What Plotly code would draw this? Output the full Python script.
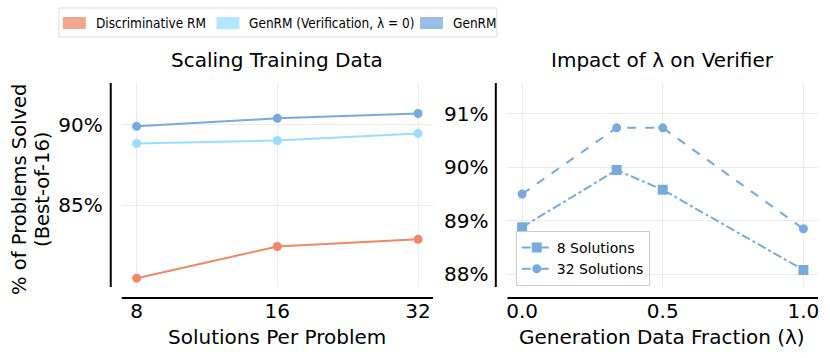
import plotly.graph_objects as go

# ---------------------------------------------------------------------------
# Data
# ---------------------------------------------------------------------------
SOLUTIONS = ["8", "16", "32"]
DISC_RM = [80.45, 82.42, 82.87]
GENRM_VERIF = [88.83, 89.02, 89.46]
GENRM = [89.90, 90.40, 90.70]

LAMBDA = [0.0, 0.336, 0.5, 1.0]
SOL_8 = [88.88, 89.95, 89.58, 88.08]
SOL_32 = [89.50, 90.74, 90.74, 88.85]

LEFT_YTICKS = [85, 90]
RIGHT_YTICKS = [88, 89, 90, 91]
RIGHT_XTICKS = [0.0, 0.5, 1.0]

LEGEND_LABELS = ["Discriminative RM", "GenRM (Verification, \u03bb = 0)", "GenRM"]
LINE_COLORS = ["#EE8866", "#99DDFF", "#77AADD"]
PATCH_COLORS = ["rgba(238,136,102,0.75)", "rgba(153,221,255,0.75)", "rgba(119,170,221,0.75)"]

W, H = 830, 358
FONT = "DejaVu Sans, Verdana, sans-serif"
GRID = "#EBEBEB"


def px_x(x):
    return x / W


def px_y(y):
    return 1 - y / H


fig = go.Figure()

# ---------------------------------------------------------------------------
# Left panel: scaling training data
# ---------------------------------------------------------------------------
for ys, color in zip([DISC_RM, GENRM_VERIF, GENRM], LINE_COLORS):
    fig.add_trace(go.Scatter(
        x=SOLUTIONS, y=ys, mode="lines+markers",
        line=dict(color=color, width=2),
        marker=dict(color=color, size=9),
        showlegend=False, xaxis="x", yaxis="y",
    ))

# ---------------------------------------------------------------------------
# Right panel: impact of lambda
# ---------------------------------------------------------------------------
fig.add_trace(go.Scatter(
    x=LAMBDA, y=SOL_8, mode="lines+markers", name="8 Solutions",
    line=dict(color="#77AADD", width=2, dash="dashdot"),
    marker=dict(color="#77AADD", size=10, symbol="square"),
    xaxis="x2", yaxis="y2", legend="legend2",
))
fig.add_trace(go.Scatter(
    x=LAMBDA, y=SOL_32, mode="lines+markers", name="32 Solutions",
    line=dict(color="#77AADD", width=2, dash="dash"),
    marker=dict(color="#77AADD", size=9, symbol="circle"),
    xaxis="x2", yaxis="y2", legend="legend2",
))

tickfont = dict(family=FONT, size=20, color="black")
xaxis_common = dict(
    showline=False, showgrid=True, gridcolor=GRID, gridwidth=1, zeroline=False,
    ticks="outside", ticklen=6, tickcolor="rgba(0,0,0,0)", tickfont=tickfont,
)
yaxis_common = dict(
    showline=False, showgrid=True, gridcolor=GRID, gridwidth=1, zeroline=False,
    ticks="outside", ticklen=14, tickcolor="rgba(0,0,0,0)", tickfont=tickfont,
)

ydom = [px_y(287), px_y(83)]

fig.update_layout(
    width=W, height=H,
    margin=dict(l=0, r=0, t=0, b=0),
    plot_bgcolor="white", paper_bgcolor="white",
    font=dict(family=FONT, color="black"),
    xaxis=dict(
        xaxis_common, domain=[px_x(121), px_x(433)], type="category",
        range=[-0.106, 2.106], anchor="y",
    ),
    yaxis=dict(
        yaxis_common, domain=ydom, range=[79.9, 92.6], anchor="x",
        tickvals=LEFT_YTICKS, ticktext=[f"{v}%" for v in LEFT_YTICKS],
    ),
    xaxis2=dict(
        xaxis_common, domain=[px_x(507.7), px_x(819)], range=[-0.052, 1.052],
        tickvals=RIGHT_XTICKS, ticktext=[f"{v:.1f}" for v in RIGHT_XTICKS],
        anchor="y2",
    ),
    yaxis2=dict(
        yaxis_common, domain=ydom, range=[87.76, 91.58], anchor="x2",
        tickvals=RIGHT_YTICKS, ticktext=[f"{v}%" for v in RIGHT_YTICKS],
    ),
    legend2=dict(
        x=px_x(516), y=px_y(231), xanchor="left", yanchor="top",
        bgcolor="rgba(255,255,255,0.85)", bordercolor="#CCCCCC", borderwidth=1,
        font=dict(family=FONT, size=14, color="black"),
        itemwidth=30, tracegroupgap=0,
    ),
)

# spines (offset from the data area, seaborn-style)
spines = [
    (110, 83, 110, 287), (121, 298, 433, 298),
    (496, 83, 496, 287), (507.7, 298, 819, 298),
]
for x0, y0, x1, y1 in spines:
    fig.add_shape(
        type="line", xref="paper", yref="paper",
        x0=px_x(x0), y0=px_y(y0), x1=px_x(x1), y1=px_y(y1),
        line=dict(color="black", width=2),
    )

# ---------------------------------------------------------------------------
# Titles and axis labels
# ---------------------------------------------------------------------------
texts = [
    ("Scaling Training Data", 277, 60, 20, 0),
    ("Impact of \u03bb on Verifier", 663, 60, 20, 0),
    ("Solutions Per Problem", 277, 337, 20, 0),
    ("Generation Data Fraction (\u03bb)", 663, 337, 20, 0),
    ("% of Problems Solved", 18, 189, 19.5, -90),
    ("(Best-of-16)", 41, 189, 19.5, -90),
]
for txt, x, y, size, angle in texts:
    fig.add_annotation(
        text=txt, x=px_x(x), y=px_y(y), xref="paper", yref="paper",
        xanchor="center", yanchor="middle", showarrow=False, textangle=angle,
        font=dict(family=FONT, size=size, color="black"),
    )

# ---------------------------------------------------------------------------
# Top legend (patch style, drawn by hand)
# ---------------------------------------------------------------------------
fig.add_shape(
    type="rect", xref="paper", yref="paper",
    x0=px_x(58), x1=px_x(497), y0=px_y(37), y1=px_y(8),
    line=dict(color="#DDDDDD", width=1), fillcolor="white", layer="below",
)
patch_x = [62, 216, 420]
for label, color, x0 in zip(LEGEND_LABELS, PATCH_COLORS, patch_x):
    fig.add_shape(
        type="rect", xref="paper", yref="paper",
        x0=px_x(x0), x1=px_x(x0 + 23), y0=px_y(29), y1=px_y(17),
        line=dict(width=0), fillcolor=color,
    )
    fig.add_annotation(
        text=label, x=px_x(x0 + 31), y=px_y(23), xref="paper", yref="paper",
        xanchor="left", yanchor="middle", showarrow=False,
        font=dict(family="DejaVu Sans Condensed, Liberation Sans Narrow, Liberation Sans, sans-serif",
                  size=13.5, color="black"),
    )

fig.write_html(
    "out.html",
    config={"displayModeBar": False},
    post_script="document.body.style.margin='0';document.body.style.padding='0';",
)
